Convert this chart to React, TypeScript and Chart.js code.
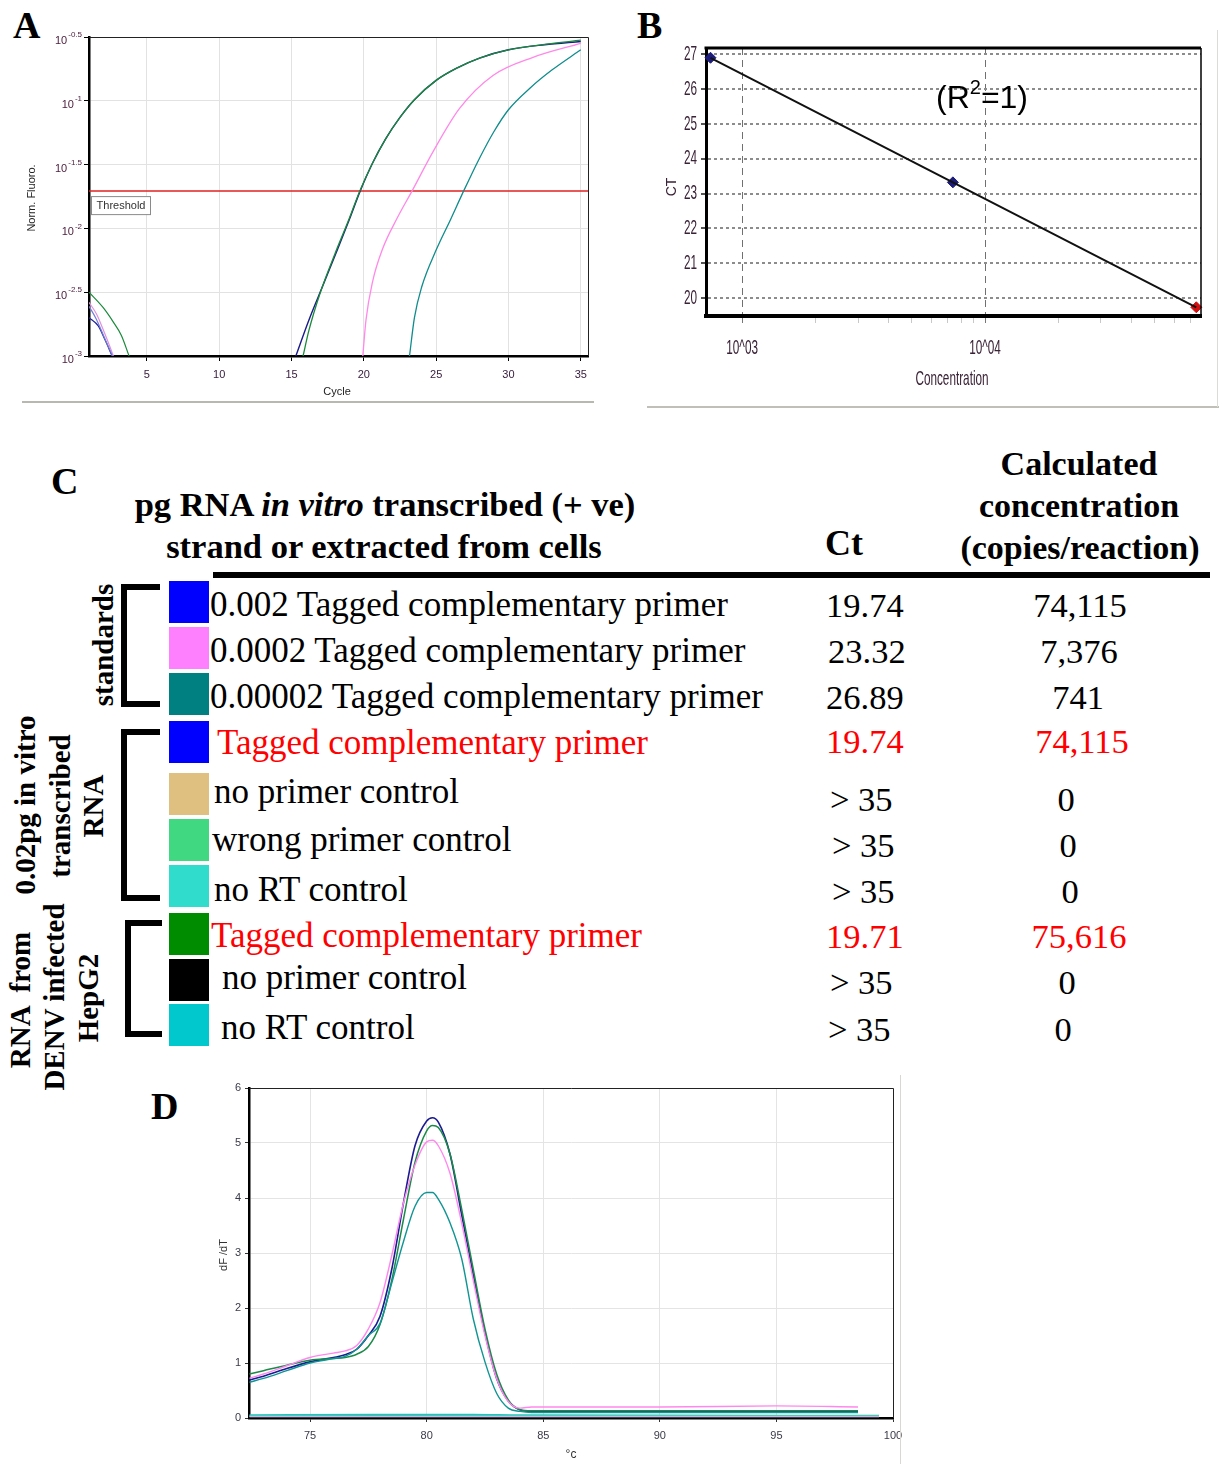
import React, { useEffect, useRef } from 'react';
import { Chart, registerables } from 'chart.js';
Chart.register(...registerables);

const SERIF = '"Liberation Serif", "Times New Roman", serif';
const SANS = '"Liberation Sans", Arial, sans-serif';

// ---------------- Panel A: amplification curves ----------------
const xTicksA = [5, 10, 15, 20, 25, 30, 35];
const yTicksA = [0.001, 0.003162, 0.01, 0.03162, 0.1, 0.3162];
const yExpA = ['-3', '-2.5', '-2', '-1.5', '-1', '-0.5'];
const thresholdA = 0.0196;

const cyclesBlue = [15.3, 16.2, 17.2, 18.2, 19.0, 19.74, 20.6, 21.5, 22.5, 23.5, 25.0, 26.5, 28.0, 30.0, 32.5, 35];
const fluoroBlue = [0.001, 0.00191, 0.00363, 0.00692, 0.01175, 0.0195, 0.0324, 0.0501, 0.0741, 0.102, 0.1445, 0.182, 0.2163, 0.251, 0.275, 0.2917];
const cyclesGreen = [15.8, 16.2, 17.0, 18.0, 19.0, 19.71, 20.6, 21.5, 22.5, 23.5, 25.0, 26.5, 28.0, 30.0, 32.5, 35];
const fluoroGreen = [0.001, 0.00158, 0.00316, 0.00631, 0.012, 0.0195, 0.0324, 0.0501, 0.0741, 0.102, 0.1445, 0.182, 0.2163, 0.251, 0.277, 0.2985];
const cyclesPink = [19.93, 20.15, 20.6, 21.3, 22.3, 23.32, 24.78, 26.62, 28.93, 31.7, 35];
const fluoroPink = [0.001, 0.00191, 0.0038, 0.00692, 0.012, 0.0195, 0.0398, 0.0871, 0.158, 0.219, 0.282];
const cyclesTeal = [23.16, 23.5, 24.0, 25.0, 26.0, 26.89, 28.0, 29.0, 30.0, 31.5, 33.0, 35];
const fluoroTeal = [0.001, 0.002, 0.00347, 0.00676, 0.01175, 0.0195, 0.0355, 0.0575, 0.0851, 0.126, 0.174, 0.251];
// early baseline-decay segments
const cyclesEarlyBlue = [1, 1.64, 2.09, 2.6];
const fluoroEarlyBlue = [0.002, 0.00172, 0.00135, 0.001];
const cyclesEarlyPink = [1, 1.51, 1.97, 2.55, 2.68];
const fluoroEarlyPink = [0.00263, 0.00214, 0.00162, 0.0011, 0.001];
const cyclesEarlyLight = [1, 1.5, 2.0, 2.62];
const fluoroEarlyLight = [0.00245, 0.00195, 0.00145, 0.001];
const cyclesEarlyGreen = [1, 1.97, 2.66, 3.24, 3.77];
const fluoroEarlyGreen = [0.00316, 0.0024, 0.00186, 0.00145, 0.001];

// ---------------- Panel B: standard curve ----------------
const concB = [741, 7376, 74115];
const ctB = [26.89, 23.32, 19.74];
const markerColorsB = ['#1c1c7c', '#1c1c7c', '#d01010'];
const yTicksB = [20, 21, 22, 23, 24, 25, 26, 27];
const xTicksB = [1000, 2000, 3000, 4000, 5000, 6000, 7000, 8000, 9000, 10000, 20000, 30000, 40000, 50000, 60000, 70000];
const xMajorB = [1000, 10000];
const xLabelsB = ['10^03', '10^04'];

// ---------------- Panel C: table ----------------
const rowLabels = [
  '0.002 Tagged complementary primer',
  '0.0002 Tagged complementary primer',
  '0.00002 Tagged complementary primer',
  'Tagged complementary primer',
  'no primer control',
  'wrong primer control',
  'no RT control',
  'Tagged complementary primer',
  'no primer control',
  'no RT control',
];
const ctValues = ['19.74', '23.32', '26.89', '19.74', '> 35', '> 35', '> 35', '19.71', '> 35', '> 35'];
const concValues = ['74,115', '7,376', '741', '74,115', '0', '0', '0', '75,616', '0', '0'];
const swatchColors = ['#0000ff', '#ff80ff', '#008080', '#0000ff', '#e0c080', '#40d880', '#30dccc', '#008c00', '#000000', '#00c8cc'];
const highlightRows = [3, 7];

// ---------------- Panel D: melt curves ----------------
const meltTemps = [72.4, 73, 74, 75, 76, 76.5, 77, 77.5, 78, 78.5, 79, 79.5, 80, 80.25, 80.5, 81, 81.5, 82, 82.5, 83, 83.5, 84, 84.5, 85, 90, 95, 98.5];
const meltNavy = [0.69, 0.76, 0.9, 1.02, 1.1, 1.15, 1.25, 1.5, 1.85, 2.7, 3.9, 4.95, 5.4, 5.46, 5.38, 4.8, 3.7, 2.6, 1.55, 0.72, 0.31, 0.15, 0.12, 0.12, 0.12, 0.12, 0.12];
const meltGreen = [0.8, 0.86, 0.96, 1.05, 1.08, 1.1, 1.16, 1.3, 1.7, 2.5, 3.6, 4.65, 5.22, 5.32, 5.28, 4.8, 3.8, 2.7, 1.62, 0.8, 0.33, 0.15, 0.13, 0.13, 0.13, 0.13, 0.13];
const meltPink = [0.72, 0.8, 0.95, 1.1, 1.18, 1.22, 1.32, 1.62, 2.1, 2.95, 3.9, 4.6, 5.02, 5.05, 4.95, 4.45, 3.55, 2.5, 1.5, 0.72, 0.3, 0.18, 0.2, 0.2, 0.2, 0.22, 0.2];
const meltTeal = [0.65, 0.72, 0.86, 1.0, 1.08, 1.12, 1.25, 1.5, 1.72, 2.45, 3.2, 3.85, 4.1, 4.1, 3.98, 3.55, 2.9, 1.8, 1.02, 0.45, 0.18, 0.12, 0.1, 0.1, 0.1, 0.1, 0.1];
const baseTemps = [72.4, 77.7, 82, 84, 99.4];
const baseTan = [0.03, 0.03, 0.03, 0.03, 0.03];
const baseLightGreen = [0.035, 0.035, 0.035, 0.035, 0.035];
const baseCyan = [0.05, 0.06, 0.06, 0.05, 0.04];
const baseBlack = [0.03, 0.04, 0.03, 0.03, 0.03];
const baseNavy = [0.02, 0.02, 0.02, 0.02, 0.02];
const xTicksD = [75, 80, 85, 90, 95, 100];
const yTicksD = [0, 1, 2, 3, 4, 5, 6];

const pts = (xs: number[], ys: number[]) => xs.map((x, i) => ({ x, y: ys[i] }));

function lineDs(xs: number[], ys: number[], color: string, width = 1.3) {
  return {
    data: pts(xs, ys),
    borderColor: color,
    backgroundColor: color,
    borderWidth: width,
    pointRadius: 0,
    fill: false,
    cubicInterpolationMode: 'monotone' as const,
  };
}

// ---------- plugins ----------
const plugA = {
  id: 'plugA',
  afterDraw(chart: any) {
    const { ctx, chartArea: ca, scales } = chart;
    ctx.save();
    ctx.strokeStyle = '#222';
    ctx.lineWidth = 1;
    ctx.beginPath();
    ctx.moveTo(ca.left, ca.top + 0.5);
    ctx.lineTo(ca.right + 0.5, ca.top + 0.5);
    ctx.lineTo(ca.right + 0.5, ca.bottom);
    ctx.stroke();
    // y tick labels with superscripts
    ctx.fillStyle = '#4a1a3a';
    ctx.textBaseline = 'middle';
    ctx.textAlign = 'left';
    yTicksA.forEach((v, i) => {
      const py = scales.y.getPixelForValue(v);
      ctx.font = `8px ${SANS}`;
      const ew = ctx.measureText(yExpA[i]).width;
      ctx.font = `11px ${SANS}`;
      const bw = ctx.measureText('10').width;
      const right = 82;
      ctx.fillText('10', right - ew - bw - 1, py + 4);
      ctx.font = `8px ${SANS}`;
      ctx.fillText(yExpA[i], right - ew, py - 2);
    });
    // threshold label box
    const ty = scales.y.getPixelForValue(thresholdA);
    ctx.fillStyle = '#fff';
    ctx.fillRect(ca.left + 2, ty + 5, 59, 18);
    ctx.strokeStyle = '#8a8a8a';
    ctx.lineWidth = 1;
    ctx.strokeRect(ca.left + 2.5, ty + 5.5, 59, 18);
    ctx.fillStyle = '#333';
    ctx.font = `11px ${SANS}`;
    ctx.textAlign = 'center';
    ctx.fillText('Threshold', ca.left + 32, ty + 14.5);
    // titles
    ctx.fillStyle = '#222';
    ctx.fillText('Cycle', 337, 392);
    ctx.translate(32, 198);
    ctx.rotate(-Math.PI / 2);
    ctx.fillText('Norm. Fluoro.', 0, 0);
    ctx.restore();
  },
};

function squeezed(ctx: any, text: string, x: number, y: number, size: number, sx: number, align: 'left' | 'center' | 'right') {
  ctx.save();
  ctx.font = `${size}px ${SANS}`;
  const w = ctx.measureText(text).width * sx;
  let left = x;
  if (align === 'center') left = x - w / 2;
  if (align === 'right') left = x - w;
  ctx.translate(left, y);
  ctx.scale(sx, 1);
  ctx.textAlign = 'left';
  ctx.textBaseline = 'middle';
  ctx.fillText(text, 0, 0);
  ctx.restore();
}

const plugB = {
  id: 'plugB',
  afterDraw(chart: any) {
    const { ctx, chartArea: ca, scales } = chart;
    ctx.save();
    ctx.strokeStyle = '#000';
    ctx.lineWidth = 3;
    ctx.beginPath();
    ctx.moveTo(ca.left - 1.5, ca.top);
    ctx.lineTo(ca.right, ca.top);
    ctx.stroke();
    ctx.lineWidth = 1.5;
    ctx.beginPath();
    ctx.moveTo(ca.right, ca.top);
    ctx.lineTo(ca.right, ca.bottom);
    ctx.stroke();
    ctx.fillStyle = '#3a2236';
    yTicksB.forEach((v) => {
      const py = scales.y.getPixelForValue(v);
      squeezed(ctx, String(v), 57, py, 21, 0.56, 'right');
    });
    xMajorB.forEach((v, i) => {
      const px = scales.x.getPixelForValue(v);
      squeezed(ctx, xLabelsB[i], px, 348, 21, 0.56, 'center');
    });
    squeezed(ctx, 'Concentration', 312, 379, 21, 0.56, 'center');
    ctx.font = `14px ${SANS}`;
    ctx.textAlign = 'center';
    ctx.textBaseline = 'middle';
    ctx.translate(32, 187);
    ctx.rotate(-Math.PI / 2);
    ctx.fillText('CT', 0, 0);
    ctx.restore();
  },
};

const plugD = {
  id: 'plugD',
  afterDraw(chart: any) {
    const { ctx, chartArea: ca } = chart;
    ctx.save();
    ctx.strokeStyle = '#222';
    ctx.lineWidth = 1;
    ctx.beginPath();
    ctx.moveTo(ca.left, ca.top + 0.5);
    ctx.lineTo(ca.right + 0.5, ca.top + 0.5);
    ctx.lineTo(ca.right + 0.5, ca.bottom);
    ctx.stroke();
    ctx.fillStyle = '#333';
    ctx.font = `12px ${SANS}`;
    ctx.textAlign = 'center';
    ctx.textBaseline = 'middle';
    ctx.fillText('°c', 371, 380);
    ctx.font = `11px ${SANS}`;
    ctx.translate(24, 180);
    ctx.rotate(-Math.PI / 2);
    ctx.fillText('dF /dT', 0, 0);
    ctx.restore();
  },
};

const makeConfigA = () => ({
  type: 'line' as const,
  data: {
    datasets: [
      lineDs(cyclesEarlyLight, fluoroEarlyLight, '#7080d8', 1.2),
      lineDs(cyclesEarlyPink, fluoroEarlyPink, '#e090e0', 1.2),
      lineDs(cyclesEarlyBlue, fluoroEarlyBlue, '#22229a', 1.2),
      lineDs(cyclesEarlyGreen, fluoroEarlyGreen, '#1a8a3a', 1.2),
      lineDs(cyclesTeal, fluoroTeal, '#108c8c', 1.3),
      lineDs(cyclesPink, fluoroPink, '#ff88e8', 1.3),
      lineDs(cyclesGreen, fluoroGreen, '#1a8a3a', 1.3),
      lineDs(cyclesBlue, fluoroBlue, '#1a1a8c', 1.4),
      { ...lineDs([1, 35.5], [thresholdA, thresholdA], '#e02020', 1.5), cubicInterpolationMode: 'default' as const },
    ],
  },
  options: {
    responsive: false,
    animation: false as const,
    devicePixelRatio: 1,
    layout: { padding: { left: 0, right: 12, top: 37, bottom: 0 } },
    plugins: { legend: { display: false }, tooltip: { enabled: false } },
    scales: {
      x: {
        type: 'linear' as const,
        min: 1,
        max: 35.5,
        afterBuildTicks: (s: any) => { s.ticks = xTicksA.map((v) => ({ value: v })); },
        afterFit: (s: any) => { s.height = 54; },
        ticks: { color: '#3a2040', font: { family: SANS, size: 11 }, padding: 7, maxRotation: 0, autoSkip: false },
        grid: { color: '#e2e2e2', tickColor: '#000', tickLength: 5 },
        border: { color: '#000', width: 2.5 },
      },
      y: {
        type: 'logarithmic' as const,
        min: 0.001,
        max: 0.3162,
        afterBuildTicks: (s: any) => { s.ticks = yTicksA.map((v) => ({ value: v })); },
        afterFit: (s: any) => { s.width = 89; },
        ticks: { callback: () => '', padding: 0 },
        grid: { color: '#e2e2e2', tickColor: '#000', tickLength: 5 },
        border: { color: '#000', width: 2.5 },
      },
    },
  },
  plugins: [plugA],
});

const makeConfigB = () => ({
  type: 'line' as const,
  data: {
    datasets: [
      {
        data: pts(concB, ctB),
        borderColor: '#111',
        borderWidth: 2,
        pointRadius: 0,
        fill: false,
      },
      {
        data: pts(concB, ctB),
        showLine: false,
        pointStyle: 'rectRot' as const,
        pointRadius: 5.5,
        pointBackgroundColor: markerColorsB,
        pointBorderColor: markerColorsB,
        clip: false as const,
      },
    ],
  },
  options: {
    responsive: false,
    animation: false as const,
    devicePixelRatio: 1,
    layout: { padding: { left: 0, right: 24, top: 48, bottom: 0 } },
    plugins: { legend: { display: false }, tooltip: { enabled: false } },
    scales: {
      x: {
        type: 'logarithmic' as const,
        min: 710,
        max: 77500,
        afterBuildTicks: (s: any) => { s.ticks = xTicksB.map((v) => ({ value: v })); },
        afterFit: (s: any) => { s.height = 104; },
        ticks: { callback: () => '', autoSkip: false },
        grid: {
          color: (c: any) => (c.tick && xMajorB.includes(c.tick.value) ? '#707070' : 'rgba(0,0,0,0)'),
          tickColor: (c: any) => (c.tick && xMajorB.includes(c.tick.value) ? '#777' : '#c8c8c8'),
          tickLength: 7,
          lineWidth: 1,
        },
        border: { color: '#000', width: 4, dash: [7, 5] },
      },
      y: {
        type: 'linear' as const,
        min: 19.49,
        max: 27.17,
        afterBuildTicks: (s: any) => { s.ticks = yTicksB.map((v) => ({ value: v })); },
        afterFit: (s: any) => { s.width = 66; },
        ticks: { callback: () => '' },
        grid: { color: '#8c8c8c', lineWidth: 2, tickColor: '#555', tickLength: 5 },
        border: { color: '#000', width: 3, dash: [3, 3] },
      },
    },
  },
  plugins: [plugB],
});

const makeConfigD = () => ({
  type: 'line' as const,
  data: {
    datasets: [
      lineDs(baseTemps, baseTan, '#d8c090', 1.2),
      lineDs(baseTemps, baseLightGreen, '#50c890', 1.2),
      lineDs(baseTemps, baseCyan, '#10c8d8', 2),
      lineDs(baseTemps, baseBlack, '#111111', 1.2),
      lineDs(baseTemps, baseNavy, '#2a3aa0', 2.5),
      lineDs(meltTemps, meltTeal, '#109494', 1.4),
      lineDs(meltTemps, meltPink, '#ff88ee', 1.4),
      lineDs(meltTemps, meltGreen, '#1a8a48', 1.5),
      lineDs(meltTemps, meltNavy, '#1c1c92', 1.6),
    ],
  },
  options: {
    responsive: false,
    animation: false as const,
    devicePixelRatio: 1,
    layout: { padding: { left: 0, right: 17, top: 13, bottom: 0 } },
    plugins: { legend: { display: false }, tooltip: { enabled: false } },
    scales: {
      x: {
        type: 'linear' as const,
        min: 72.38,
        max: 100,
        afterBuildTicks: (s: any) => { s.ticks = xTicksD.map((v) => ({ value: v })); },
        afterFit: (s: any) => { s.height = 46; },
        ticks: { color: '#3a3a4a', font: { family: SANS, size: 11 }, padding: 7, maxRotation: 0, autoSkip: false },
        grid: { color: '#e4e4e4', tickColor: '#333', tickLength: 4 },
        border: { color: '#000', width: 2.5 },
      },
      y: {
        type: 'linear' as const,
        min: 0,
        max: 6,
        afterBuildTicks: (s: any) => { s.ticks = yTicksD.map((v) => ({ value: v })); },
        afterFit: (s: any) => { s.width = 49; },
        ticks: { color: '#3a3a4a', font: { family: SANS, size: 11 }, padding: 4 },
        grid: { color: '#e4e4e4', tickColor: '#333', tickLength: 4 },
        border: { color: '#000', width: 2.5 },
      },
    },
  },
  plugins: [plugD],
});

function ChartBox({ left, top, width, height, make }: any) {
  const ref = useRef<HTMLCanvasElement>(null);
  useEffect(() => {
    const chart = new Chart(ref.current as HTMLCanvasElement, make() as any);
    return () => chart.destroy();
  }, []);
  return (
    <div style={{ position: 'absolute', left, top, width, height }}>
      <canvas ref={ref} width={width} height={height} style={{ width, height, display: 'block' }} />
    </div>
  );
}

function Txt({ x, y, size, bold, italic, color, align, children }: any) {
  const w = 800;
  const left = align === 'center' ? x - w / 2 : align === 'right' ? x - w : x;
  return (
    <div
      style={{
        position: 'absolute', left, top: y - 25, width: w, height: 50, lineHeight: '50px',
        fontFamily: SERIF, fontSize: size, fontWeight: bold ? 'bold' : 'normal',
        fontStyle: italic ? 'italic' : 'normal', color: color || '#000',
        textAlign: align || 'left', whiteSpace: 'pre',
      }}
    >
      {children}
    </div>
  );
}

function RotTxt({ x, y, size, children }: any) {
  return (
    <div
      style={{
        position: 'absolute', left: x, top: y, transform: 'translate(-50%,-50%) rotate(-90deg)',
        fontFamily: SERIF, fontWeight: 'bold', fontSize: size, whiteSpace: 'pre', lineHeight: 1,
      }}
    >
      {children}
    </div>
  );
}

function Bracket({ x, top, bottom, arm }: any) {
  const t = 6;
  return (
    <>
      <div style={{ position: 'absolute', left: x, top, width: t, height: bottom - top, background: '#000' }} />
      <div style={{ position: 'absolute', left: x, top, width: arm, height: t, background: '#000' }} />
      <div style={{ position: 'absolute', left: x, top: bottom - t, width: arm, height: t, background: '#000' }} />
    </>
  );
}

const rowY = [605, 651, 697, 743, 792, 840, 890, 936, 978, 1028];
const rowX = [210, 210, 210, 217, 214, 212, 214, 211, 222, 221];
const ctY = [605, 651, 697, 741, 799, 845, 891, 936, 982, 1029];
const ctX = [826, 828, 826, 826, 830, 832, 832, 826, 830, 828];
const concX = [1080, 1079, 1078, 1082, 1066, 1068, 1070, 1079, 1067, 1063];
const swatchTop = [581, 627, 673, 721, 773, 819, 865, 913, 959, 1004];

export default function App() {
  return (
    <div style={{ position: 'absolute', left: 0, top: 0, width: 1225, height: 1464, background: '#fff', overflow: 'hidden' }}>
      {/* Panel labels */}
      <Txt x={13} y={25} size={38} bold>A</Txt>
      <Txt x={637} y={25} size={38} bold>B</Txt>
      <Txt x={51} y={481} size={38} bold>C</Txt>
      <Txt x={151} y={1106} size={38} bold>D</Txt>

      {/* Panel A */}
      <ChartBox left={0} top={0} width={600} height={410} make={makeConfigA} />
      <div style={{ position: 'absolute', left: 22, top: 401, width: 572, height: 2, background: '#b8b8b0' }} />

      {/* Panel B */}
      <ChartBox left={640} top={0} width={585} height={420} make={makeConfigB} />
      <div style={{ position: 'absolute', left: 982, top: 97, transform: 'translate(-50%,-50%)', fontFamily: SANS, fontSize: 32, whiteSpace: 'pre', lineHeight: 1 }}>
        (R<sup style={{ fontSize: 20, verticalAlign: 'top', position: 'relative', top: -4 }}>2</sup>=1)
      </div>
      <div style={{ position: 'absolute', left: 647, top: 406, width: 572, height: 2, background: '#c0c0b8' }} />
      <div style={{ position: 'absolute', left: 1217, top: 30, width: 1, height: 377, background: '#dcdcd6' }} />

      {/* Panel C */}
      <Txt x={385} y={504} size={34.5} bold align="center">
        pg RNA <i>in vitro</i> transcribed (+ ve)
      </Txt>
      <Txt x={384} y={546} size={34.5} bold align="center">strand or extracted from cells</Txt>
      <Txt x={825} y={543} size={36} bold>Ct</Txt>
      <Txt x={1079} y={464} size={34} bold align="center">Calculated</Txt>
      <Txt x={1079} y={506} size={34} bold align="center">concentration</Txt>
      <Txt x={1080} y={548} size={34} bold align="center">(copies/reaction)</Txt>
      <div style={{ position: 'absolute', left: 213, top: 572, width: 997, height: 6, background: '#000' }} />

      {rowLabels.map((lab, i) => {
        const red = highlightRows.includes(i);
        return (
          <React.Fragment key={i}>
            <div style={{ position: 'absolute', left: 169, top: swatchTop[i], width: 40, height: 42, background: swatchColors[i] }} />
            <Txt x={rowX[i]} y={rowY[i]} size={35} color={red ? '#ff0000' : '#000'}>{lab}</Txt>
            <Txt x={ctX[i]} y={ctY[i]} size={34.5} color={red ? '#ff0000' : '#000'}>{ctValues[i]}</Txt>
            <Txt x={concX[i]} y={ctY[i]} size={34.5} align="center" color={red ? '#ff0000' : '#000'}>{concValues[i]}</Txt>
          </React.Fragment>
        );
      })}

      <Bracket x={121} top={584} bottom={707} arm={39} />
      <Bracket x={121} top={729} bottom={901} arm={39} />
      <Bracket x={125} top={920} bottom={1037} arm={37} />

      <RotTxt x={103} y={645} size={29}>standards</RotTxt>
      <RotTxt x={25} y={805} size={29}>0.02pg in vitro</RotTxt>
      <RotTxt x={60} y={806} size={29}>transcribed</RotTxt>
      <RotTxt x={93} y={806} size={29}>RNA</RotTxt>
      <RotTxt x={20} y={1000} size={29}>RNA  from</RotTxt>
      <RotTxt x={54} y={997} size={29}>DENV infected</RotTxt>
      <RotTxt x={88} y={998} size={29}>HepG2</RotTxt>

      {/* Panel D */}
      <ChartBox left={200} top={1075} width={710} height={389} make={makeConfigD} />
      <div style={{ position: 'absolute', left: 900, top: 1075, width: 1, height: 389, background: '#dcd6d0' }} />
    </div>
  );
}
